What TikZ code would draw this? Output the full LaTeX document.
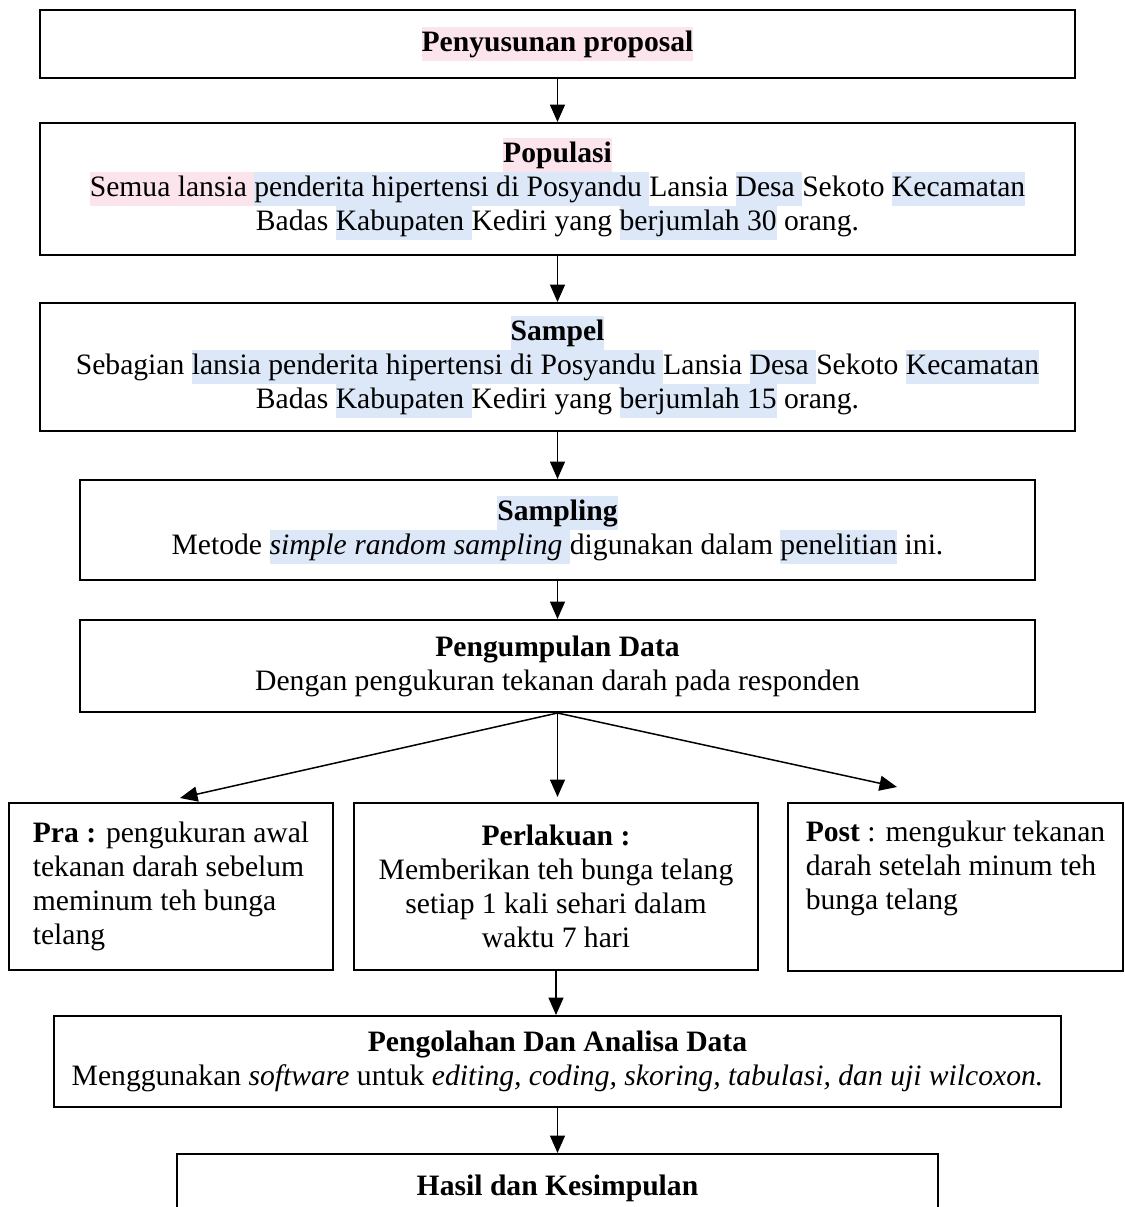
\documentclass[tikz,border=0pt]{standalone}
\usepackage{fontspec}
\setmainfont{Liberation Serif}
\usetikzlibrary{arrows.meta}
\definecolor{hlpinkc}{RGB}{252,228,236}
\definecolor{hlbluec}{RGB}{220,231,248}
\newcommand\mainsize{\fontsize{11.85}{13.6}\selectfont}
\newcommand\hlp[1]{{\setlength{\fboxsep}{0pt}\colorbox{hlpinkc}{\rule[-3.7pt]{0pt}{13.3pt}#1}}}
\newcommand\hlb[1]{{\setlength{\fboxsep}{0pt}\colorbox{hlbluec}{\rule[-3.7pt]{0pt}{13.3pt}#1}}}
\tikzset{
  flowbox/.style 2 args={draw, line width=0.8pt, minimum width=#1*0.4pt,
    minimum height=#2*0.4pt, inner sep=0pt, align=center, font=\mainsize},
  arr/.style={line width=0.6pt, -{Triangle[length=7pt,width=6pt]}},
}
\begin{document}
\begin{tikzpicture}[x=0.4pt,y=-0.4pt]
\useasboundingbox (0,0) rectangle (1125,1207);
\fill[white] (0,0) rectangle (1125,1207);
\clip (0,0) rectangle (1125,1207);

\node[flowbox={1035}{68}] (b1) at (557.5,44) {\hlp{\textbf{Penyusunan proposal}}};

\node[flowbox={1035}{132}] (b2) at (557.5,189) {\hlp{\textbf{Populasi}}\\
\hlp{Semua lansia }\hlb{penderita hipertensi di Posyandu }Lansia \hlb{Desa }Sekoto \hlb{Kecamatan}\\
Badas \hlb{Kabupaten }Kediri yang \hlb{berjumlah 30} orang.};

\node[flowbox={1035}{128}] (b3) at (557.5,367) {\hlb{\textbf{Sampel}}\\
Sebagian \hlb{lansia penderita hipertensi di Posyandu }Lansia \hlb{Desa }Sekoto \hlb{Kecamatan}\\
Badas \hlb{Kabupaten }Kediri yang \hlb{berjumlah 15} orang.};

\node[flowbox={955}{100}] (b4) at (557.5,530) {\hlb{\textbf{Sampling}}\\
Metode \hlb{\textit{simple random sampling} }digunakan dalam \hlb{penelitian} ini.};

\node[flowbox={955}{92}] (b5) at (557.5,666) {\textbf{Pengumpulan Data}\\
Dengan pengukuran tekanan darah pada responden};

\node[flowbox={324}{167}, align=left] (pra) at (171,886.5)
  {\textbf{Pra :} pengukuran awal\\ tekanan darah sebelum\\ meminum teh bunga\\ telang};

\node[flowbox={404}{167}] (perl) at (556,886.5)
  {\textbf{Perlakuan :}\\ Memberikan teh bunga telang\\ setiap 1 kali sehari dalam\\ waktu 7 hari};

\node[flowbox={335}{168}, align=left] (post) at (955.5,887)
  {\textbf{Post} : mengukur tekanan\\ darah setelah minum teh\\ bunga telang\\ \strut};

\node[flowbox={1007}{91}] (b9) at (557.5,1061.5) {\textbf{Pengolahan Dan Analisa Data}\\
Menggunakan \textit{software} untuk \textit{editing, coding, skoring, tabulasi, dan uji wilcoxon.}};

\node[flowbox={761}{68}] (b10) at (557.5,1188) {\textbf{Hasil dan Kesimpulan}};

\coordinate (tipl) at (180,798);
\coordinate (tipm) at (557.5,797);
\coordinate (tipr) at (897,787);

\draw[arr] (b1) -- (b2);
\draw[arr] (b2) -- (b3);
\draw[arr] (b3) -- (b4);
\draw[arr] (b4) -- (b5);
\draw[arr] (b5.south) -- (tipl);
\draw[arr] (b5.south) -- (tipm);
\draw[arr] (b5.south) -- (tipr);
\draw[arr] (perl.south) -- (perl.south |- b9.north);
\draw[arr] (b9.south) -- (b9.south |- b10.north);
\end{tikzpicture}
\end{document}
